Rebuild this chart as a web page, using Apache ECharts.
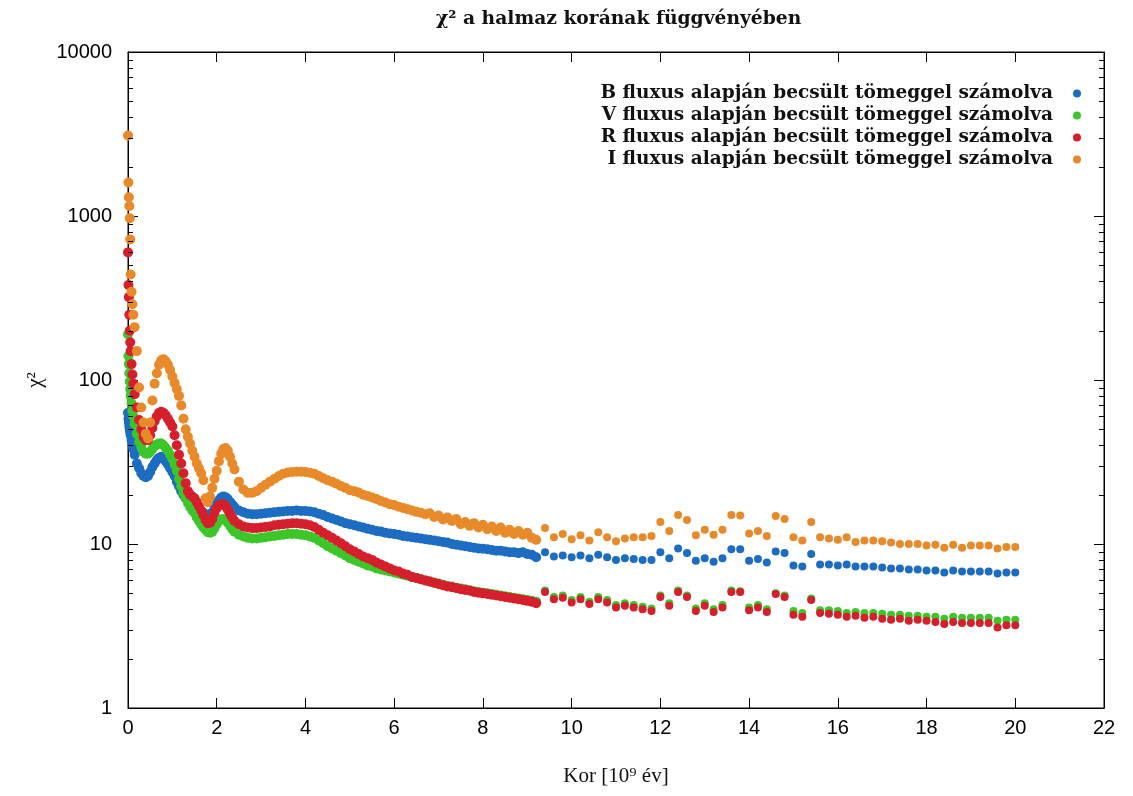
<!DOCTYPE html>
<html><head><meta charset="utf-8">
<script src="https://cdn.jsdelivr.net/npm/echarts@6/dist/echarts.min.js"></script>
<style>html,body{margin:0;padding:0;background:#fff}#c{width:1133px;height:796px}</style>
</head><body><div id="c"></div>
<script>
// Age of the cluster [10^9 yr]
const ages = [
  0, 0.01, 0.02, 0.03, 0.04, 0.05, 0.06, 0.08, 0.1, 0.12, 0.15,
  0.2, 0.25, 0.3, 0.35, 0.4, 0.45, 0.5, 0.55, 0.6, 0.65, 0.7, 0.75, 0.8,
  0.85, 0.9, 0.95, 1, 1.05, 1.1, 1.15, 1.2, 1.25, 1.3, 1.35, 1.4,
  1.45, 1.5, 1.55, 1.6, 1.65, 1.7, 1.75, 1.8, 1.85, 1.9, 1.95, 2,
  2.05, 2.1, 2.15, 2.2, 2.25, 2.3, 2.35, 2.4,
  2.5, 2.6, 2.7, 2.8, 2.9, 3, 3.1, 3.2, 3.3, 3.4, 3.5, 3.6, 3.7, 3.8, 3.9, 4,
  4.1, 4.2, 4.3, 4.4, 4.5, 4.6, 4.7, 4.8, 4.9, 5,
  5.1, 5.2, 5.3, 5.4, 5.5, 5.6, 5.7, 5.8, 5.9, 6,
  6.1, 6.2, 6.3, 6.4, 6.5, 6.6, 6.7, 6.8, 6.9, 7,
  7.1, 7.2, 7.3, 7.4, 7.5, 7.6, 7.7, 7.8, 7.9, 8,
  8.1, 8.2, 8.3, 8.4, 8.5, 8.6, 8.7, 8.8, 8.9, 9,
  9.1, 9.2,
  9.4, 9.6, 9.8, 10, 10.2, 10.4, 10.6, 10.8, 11, 11.2,
  11.4, 11.6, 11.8, 12, 12.2, 12.4, 12.6, 12.8, 13, 13.2,
  13.4, 13.6, 13.8, 14, 14.2, 14.4, 14.6, 14.8, 15, 15.2,
  15.4, 15.6, 15.8, 16, 16.2, 16.4, 16.6, 16.8, 17, 17.2,
  17.4, 17.6, 17.8, 18, 18.2, 18.4, 18.6, 18.8, 19, 19.2,
  19.4, 19.6, 19.8, 20
];
// chi^2, mass estimated from B flux
const chiB = [
  63, 58, 55, 52, 50, 48, 46, 43, 40, 38, 35,
  31, 29, 27, 26, 25.5, 26, 27.5, 29.5, 31, 32.5, 33.5, 34, 33.5,
  32, 30.5, 29, 27.5, 26, 24, 22.5, 21, 20, 19, 18.3, 17.6,
  17, 16.5, 16.2, 16, 15.8, 15.5, 15, 14.8, 15.2, 15.5, 16.5, 17.5,
  18.5, 19.2, 19.5, 19.3, 18.8, 18, 17.4, 16.8,
  16, 15.6, 15.3, 15.2, 15.2, 15.3, 15.4, 15.5, 15.6, 15.7, 15.8, 15.9, 15.9, 16, 15.9, 15.9,
  15.8, 15.6, 15.3, 15, 14.6, 14.3, 14, 13.7, 13.4, 13.2,
  13, 12.8, 12.6, 12.4, 12.2, 12, 11.9, 11.7, 11.6, 11.5,
  11.4, 11.2, 11.1, 11, 10.9, 10.8, 10.7, 10.6, 10.5, 10.4,
  10.3, 10.2, 10, 9.9, 9.8, 9.7, 9.6, 9.5, 9.4, 9.35,
  9.3, 9.2, 9.1, 9.1, 9, 8.9, 8.9, 8.8, 8.9, 8.7,
  8.6, 8.3,
  8.9, 8.4, 8.5, 8.3, 8.5, 8.2, 8.6, 8.3, 8, 8.2,
  8.1, 8, 8, 8.9, 8.2, 9.4, 8.8, 7.9, 8.2, 7.8,
  8.2, 9.3, 9.3, 7.9, 8.1, 7.7, 9, 8.8, 7.4, 7.3,
  8.7, 7.5, 7.5, 7.4, 7.5, 7.3, 7.3, 7.3, 7.2, 7.1,
  7.1, 7, 7, 6.9, 6.9, 6.7, 6.9, 6.8, 6.8, 6.8,
  6.8, 6.6, 6.7, 6.7
];
// chi^2, mass estimated from V flux
const chiV = [
  190, 140, 125, 110, 98, 88, 80, 72, 65, 60, 54,
  47, 42, 39, 36.5, 35.5, 35.5, 36.5, 38, 39.5, 40.5, 41, 41, 40,
  38.5, 37, 35, 33, 30.5, 28, 25, 22.5, 20.5, 19, 17.8, 16.8,
  16, 15.5, 14.5, 13.8, 13.2, 12.6, 12.2, 11.8, 11.7, 11.9, 12.5, 13.2,
  13.8, 14.1, 14.2, 14, 13.5, 12.9, 12.3, 11.9,
  11.4, 11.1, 10.9, 10.8, 10.8, 10.9, 11, 11.1, 11.2, 11.3, 11.4, 11.5, 11.5, 11.5, 11.4, 11.3,
  11.1, 10.9, 10.5, 10.1, 9.7, 9.4, 9.1, 8.8, 8.5, 8.2,
  8, 7.8, 7.6, 7.4, 7.3, 7.1, 7, 6.9, 6.8, 6.7,
  6.6, 6.5, 6.4, 6.3, 6.2, 6.1, 6, 5.9, 5.8, 5.75,
  5.65, 5.55, 5.5, 5.4, 5.35, 5.3, 5.2, 5.15, 5.1, 5.05,
  5, 4.95, 4.9, 4.85, 4.8, 4.75, 4.7, 4.65, 4.6, 4.55,
  4.5, 4.45,
  5.2, 4.75, 4.85, 4.55, 4.75, 4.45, 4.75, 4.55, 4.25, 4.35,
  4.25, 4.15, 4.05, 4.85, 4.35, 5.2, 4.85, 4.05, 4.35, 4,
  4.25, 5.2, 5.15, 4.1, 4.25, 4, 5, 4.85, 3.9, 3.8,
  4.65, 3.95, 3.95, 3.9, 3.8, 3.85, 3.8, 3.8, 3.75, 3.7,
  3.7, 3.65, 3.65, 3.6, 3.6, 3.5, 3.6, 3.55, 3.55, 3.55,
  3.55, 3.4, 3.45, 3.45
];
// chi^2, mass estimated from R flux
const chiR = [
  600, 380, 320, 250, 200, 170, 150, 125, 108, 95, 82,
  68, 57, 50, 45, 43, 43, 46, 51, 56, 60, 63, 64, 63,
  61, 58, 55, 52, 46, 40, 35, 31, 27, 23.5, 21, 20,
  19.5, 19, 18, 17, 16, 15, 14, 13.4, 13.5, 14.2, 15.5, 16.5,
  17.2, 17.5, 17.5, 17, 16.2, 15.3, 14.5, 13.8,
  13.2, 12.8, 12.6, 12.5, 12.5, 12.6, 12.7, 12.8, 13, 13.1, 13.2, 13.3, 13.4, 13.4, 13.3, 13.2,
  13, 12.7, 12.2, 11.7, 11.3, 10.9, 10.5, 10.1, 9.7, 9.3,
  9, 8.7, 8.4, 8.2, 8, 7.7, 7.5, 7.3, 7.1, 6.9,
  6.8, 6.6, 6.5, 6.3, 6.2, 6.1, 6, 5.9, 5.8, 5.7,
  5.6, 5.5, 5.45, 5.4, 5.3, 5.25, 5.2, 5.1, 5.05, 5,
  4.95, 4.9, 4.85, 4.8, 4.75, 4.7, 4.65, 4.6, 4.55, 4.5,
  4.45, 4.35,
  5.1, 4.6, 4.7, 4.4, 4.6, 4.3, 4.6, 4.4, 4.1, 4.2,
  4.1, 4, 3.9, 4.75, 4.2, 5.1, 4.75, 3.9, 4.2, 3.85,
  4.1, 5.1, 5.1, 3.95, 4.1, 3.85, 4.95, 4.75, 3.7, 3.6,
  4.55, 3.8, 3.75, 3.7, 3.6, 3.65, 3.55, 3.6, 3.5, 3.45,
  3.5, 3.4, 3.45, 3.4, 3.35, 3.25, 3.35, 3.3, 3.3, 3.3,
  3.3, 3.1, 3.2, 3.2
];
// chi^2, mass estimated from I flux
const chiI = [
  3100, 1600, 1300, 1150, 970, 720, 440, 345, 290, 250, 210,
  150, 90, 68, 55, 47, 44, 55, 75, 95, 110, 124, 132, 134,
  130, 124, 115, 105, 96, 88, 80, 70, 58, 50, 45, 41,
  37, 34, 31, 29, 27, 24.5, 19, 18, 19.5, 22, 25, 28,
  32, 35.5, 38, 38.5, 37, 34, 31, 28.5,
  24, 21.5, 20.5, 20.5, 21, 22, 23, 24, 25, 26, 26.8, 27.3, 27.5, 27.6, 27.6, 27.5,
  27.2, 26.8, 26, 25.2, 24.5, 24, 23.3, 22.6, 22, 21.3,
  21, 20.6, 20, 19.6, 19.2, 18.8, 18.3, 17.9, 17.5, 17.3,
  16.9, 16.6, 16.3, 16, 15.7, 15.5, 15.2, 15.4, 14.6, 14.9,
  14.1, 14.5, 13.8, 14.2, 13.2, 13.6, 12.9, 13.4, 12.6, 13.1,
  12.3, 12.8, 12, 12.6, 11.7, 12.2, 11.5, 12, 11.4, 11.7,
  10.9, 10.6,
  12.5, 11, 11.5, 10.7, 11.3, 10.5, 11.8, 11, 10.4, 10.8,
  11, 11, 11.2, 13.6, 12, 15, 14, 11.3, 12.2, 11.4,
  12.2, 15, 14.9, 11.6, 12, 11.2, 14.8, 14.2, 11, 10.5,
  13.6, 11, 10.8, 10.6, 11, 10.3, 10.5, 10.5, 10.4, 10.2,
  10, 10, 10, 9.8, 9.9, 9.5, 9.9, 9.5, 9.8, 9.8,
  9.8, 9.4, 9.6, 9.6
];
const seriesNames = [
  'B fluxus alapján becsült tömeggel számolva',
  'V fluxus alapján becsült tömeggel számolva',
  'R fluxus alapján becsült tömeggel számolva',
  'I fluxus alapján becsült tömeggel számolva'
];
const seriesValues = [chiB, chiV, chiR, chiI];
const seriesColors = ['#1c6dc2', '#3cc62a', '#d51f2c', '#e98a2a'];
const xTickLabels = [0, 2, 4, 6, 8, 10, 12, 14, 16, 18, 20, 22];
const yTickLabels = [1, 10, 100, 1000, 10000];
const minorMantissas = [2, 3, 4, 5, 6, 7, 8, 9];
const denseAgeLimit = 9.25; // dense sampling of the model grid ends here

const minorTicks = [];
yTickLabels.slice(0, -1).forEach(d => minorMantissas.forEach(m => minorTicks.push(d * m)));

const chart = echarts.init(document.getElementById('c'), null, {renderer: 'canvas'});
const sansFont = 'Liberation Sans';
const serifFont = 'DejaVu Serif';

const scatterSeries = seriesNames.map((name, k) => ({
  name: name,
  type: 'scatter',
  xAxisIndex: 0,
  yAxisIndex: 0,
  symbol: 'circle',
  symbolSize: function (val) { return val[0] < denseAgeLimit ? 10 : 8; },
  itemStyle: {color: seriesColors[k], opacity: 1},
  data: ages.map((a, i) => [a, seriesValues[k][i]]),
  z: 2 + k
}));

const minorTickSeries = {
  type: 'custom',
  xAxisIndex: 0,
  yAxisIndex: 0,
  silent: true,
  clip: false,
  z: 20,
  encode: {x: 0, y: 1},
  data: minorTicks.map(v => [0, v]),
  renderItem: function (params, api) {
    const v = api.value(1);
    const pl = api.coord([xTickLabels[0], v]);
    const pr = api.coord([xTickLabels[xTickLabels.length - 1], v]);
    const y = Math.round(pl[1]) + 0.5;
    return {
      type: 'group',
      children: [
        {type: 'line', shape: {x1: pl[0], y1: y, x2: pl[0] + 5, y2: y}, style: {stroke: '#000', lineWidth: 1}},
        {type: 'line', shape: {x1: pr[0] - 5, y1: y, x2: pr[0], y2: y}, style: {stroke: '#000', lineWidth: 1}}
      ]
    };
  }
};

const baseX = {
  type: 'value',
  min: xTickLabels[0],
  max: xTickLabels[xTickLabels.length - 1],
  interval: 2,
  splitLine: {show: false},
  axisLine: {show: true, onZero: false, lineStyle: {color: '#000', width: 1}},
  axisTick: {show: true, inside: true, length: 10, lineStyle: {color: '#000', width: 1}}
};
const baseY = {
  type: 'log',
  logBase: 10,
  min: yTickLabels[0],
  max: yTickLabels[yTickLabels.length - 1],
  splitLine: {show: false},
  axisLine: {show: true, onZero: false, lineStyle: {color: '#000', width: 1}},
  axisTick: {show: true, inside: true, length: 10, lineStyle: {color: '#000', width: 1}}
};

const option = {
  animation: false,
  backgroundColor: '#ffffff',
  title: {
    text: 'χ² a halmaz korának függvényében',
    left: 431,
    top: 5,
    textStyle: {fontFamily: serifFont, fontWeight: 'bold', fontSize: 18.7, color: '#111'}
  },
  legend: seriesNames.map((n, i) => ({
    data: [n],
    orient: 'vertical',
    align: 'right',
    right: 47,
    top: 79 + i * 22,
    itemWidth: 38,
    itemHeight: 8,
    itemGap: 0,
    padding: 5,
    selectedMode: false,
    textStyle: {fontFamily: serifFont, fontWeight: 'bold', fontSize: 18.5, color: '#111'}
  })),
  grid: {left: 128, right: 29, top: 52, bottom: 88, show: true, borderColor: '#000', borderWidth: 1, containLabel: false},
  xAxis: [
    Object.assign({}, baseX, {
      position: 'bottom',
      name: 'Kor [10⁹ év]',
      nameLocation: 'middle',
      nameGap: 58,
      nameTextStyle: {fontFamily: 'Liberation Serif', fontSize: 21, color: '#111'},
      axisLabel: {show: true, margin: 10, fontFamily: sansFont, fontSize: 20, color: '#000'}
    }),
    Object.assign({}, baseX, {position: 'top', axisLabel: {show: false}})
  ],
  yAxis: [
    Object.assign({}, baseY, {
      position: 'left',
      name: 'χ²',
      nameLocation: 'middle',
      nameGap: 82,
      nameRotate: 90,
      nameTextStyle: {fontFamily: 'Liberation Serif', fontSize: 21, color: '#111'},
      axisLabel: {show: true, margin: 16, fontFamily: sansFont, fontSize: 20, color: '#000',
        formatter: function (v) { return String(v); }}
    }),
    Object.assign({}, baseY, {position: 'right', axisLabel: {show: false}})
  ],
  series: scatterSeries.concat([minorTickSeries])
};
chart.setOption(option);
</script>
</body></html>
